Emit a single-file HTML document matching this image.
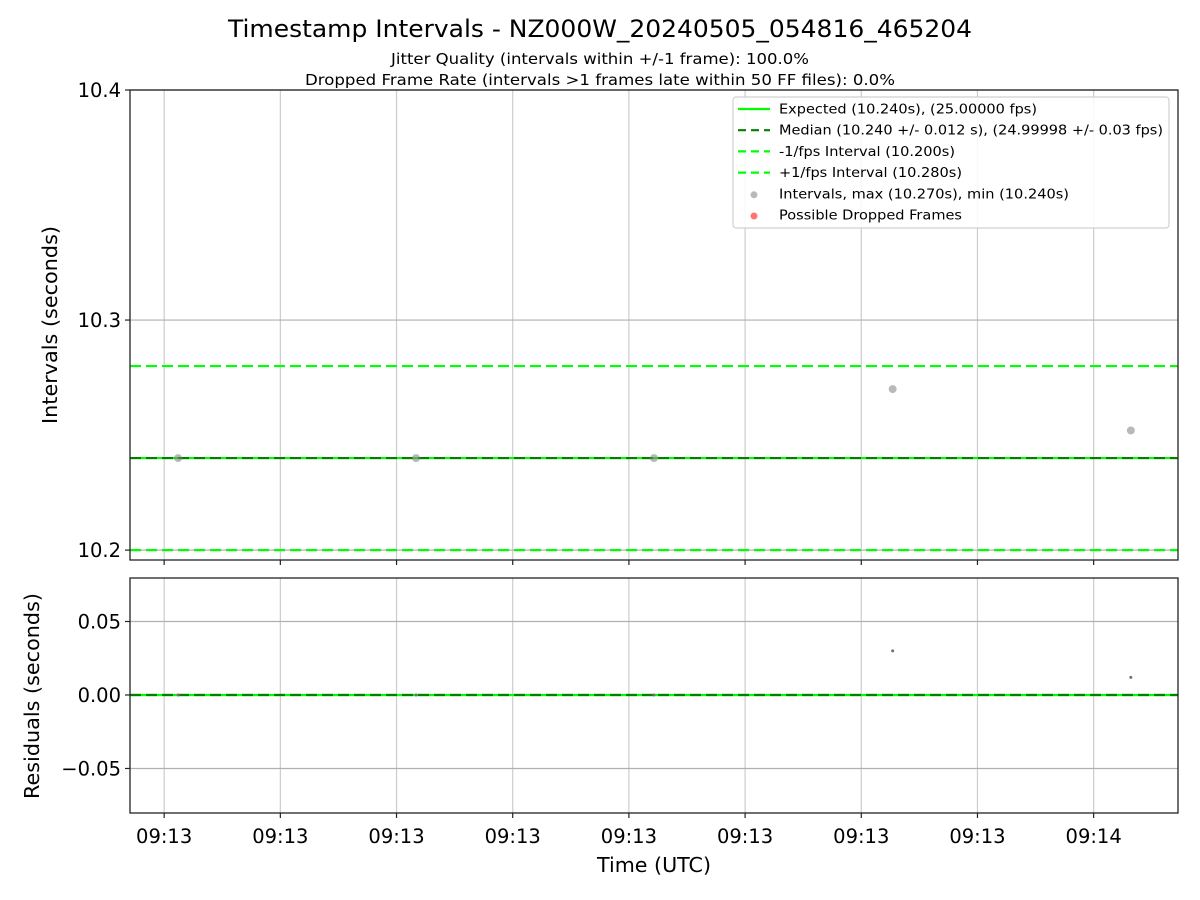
<!DOCTYPE html>
<html><head><meta charset="utf-8"><style>
html,body{margin:0;padding:0;background:#fff;width:1200px;height:900px;overflow:hidden}
svg{font-family:"DejaVu Sans","Liberation Sans",sans-serif}
</style></head><body>
<svg id="chart" width="1200" height="900" viewBox="0 0 1200 900">
<text x="600" y="37" font-size="24" text-anchor="middle" textLength="744" lengthAdjust="spacingAndGlyphs" fill="#000">Timestamp Intervals - NZ000W_20240505_054816_465204</text>
<text x="600" y="64" font-size="15.5" text-anchor="middle" textLength="418" lengthAdjust="spacingAndGlyphs">Jitter Quality (intervals within +/-1 frame): 100.0%</text>
<text x="600" y="85" font-size="15.5" text-anchor="middle" textLength="590" lengthAdjust="spacingAndGlyphs">Dropped Frame Rate (intervals &gt;1 frames late within 50 FF files): 0.0%</text>
<g id="topPlot"></g>
<g id="botPlot"></g>
<text x="654" y="872" font-size="20" text-anchor="middle" textLength="114" lengthAdjust="spacingAndGlyphs">Time (UTC)</text>
<text transform="translate(57,325) rotate(-90)" font-size="20" text-anchor="middle" textLength="198" lengthAdjust="spacingAndGlyphs">Intervals (seconds)</text>
<text transform="translate(39,696) rotate(-90)" font-size="20" text-anchor="middle" textLength="206" lengthAdjust="spacingAndGlyphs">Residuals (seconds)</text>
</svg>
<script>
const times=[0,10.24,20.48,30.75,41.0];
const intervals=[10.240,10.240,10.240,10.270,10.252];
const residuals=[0.000,0.000,0.000,0.030,0.012];
const expected=10.240, median=10.240, lowerBound=10.200, upperBound=10.280;
const xTicks=[-0.6,4.4,9.4,14.4,19.4,24.4,29.4,34.4,39.4];
const xTickLabels=["09:13","09:13","09:13","09:13","09:13","09:13","09:13","09:13","09:14"];
const topTicks=[10.2,10.3,10.4];
const topTickLabels=["10.2","10.3","10.4"];
const botTicks=[-0.05,0,0.05];
const botTickLabels=["\u22120.05","0.00","0.05"];

const NS="http://www.w3.org/2000/svg";
const L=130,R=1178;
const xMin=-2.07,xMax=43.03;
const sx=t=>L+(t-xMin)/(xMax-xMin)*(R-L);
const TA={top:90,bot:560,min:10.1957,max:10.4};
const BA={top:578,bot:813,min:-0.0803,max:0.0796};
const sy=(a,v)=>a.bot-(v-a.min)/(a.max-a.min)*(a.bot-a.top);
function el(p,tag,at){const e=document.createElementNS(NS,tag);for(const k in at)e.setAttribute(k,at[k]);p.appendChild(e);return e;}

function axes(g,a,ticks,labels,isBottom){
  xTicks.forEach((t,i)=>{const l=el(g,'line',{x1:sx(t),x2:sx(t),y1:a.top,y2:a.bot,stroke:'#cccccc','stroke-width':1.2});
    
    
    const tk=el(g,'line',{x1:sx(t),x2:sx(t),y1:a.bot,y2:a.bot+5,stroke:'#222','stroke-width':1.2});
    
    
    if(isBottom){const tx=el(g,'text',{x:sx(t),y:a.bot+30,'font-size':19.5,'text-anchor':'middle'});tx.textContent=xTickLabels[i];
      
      }
  });
  ticks.forEach((v,i)=>{const y=sy(a,v);
    const gl=el(g,'line',{x1:L,x2:R,y1:y,y2:y,stroke:'#b0b0b0','stroke-width':1.2});
    
    
    const tk=el(g,'line',{x1:L-5,x2:L,y1:y,y2:y,stroke:'#222','stroke-width':1.2});
    
    
    const tx=el(g,'text',{x:L-9,y:y+7,'font-size':19.5,'text-anchor':'end'});tx.textContent=labels[i];
    
    
  });
}
function hline(g,a,v,color,dash,name){const y=sy(a,v);
  const l=el(g,'line',{x1:L,x2:R,y1:y,y2:y,stroke:color,'stroke-width':2.2});
  if(dash)l.setAttribute('stroke-dasharray',dash);
  
  }
function frame(g,a,name){const r=el(g,'rect',{x:L,y:a.top,width:R-L,height:a.bot-a.top,fill:'none',stroke:'#222','stroke-width':1.3});
  
  }

const topG=document.getElementById('topPlot');
axes(topG,TA,topTicks,topTickLabels,false);
hline(topG,TA,expected,'#00ff00',null,'expected-line');
hline(topG,TA,median,'#007f00','11,5','median-line');
hline(topG,TA,lowerBound,'#00ff00','11,5','minus-1fps-line');
hline(topG,TA,upperBound,'#00ff00','11,5','plus-1fps-line');
times.forEach((t,i)=>{const c=el(topG,'circle',{cx:sx(t),cy:sy(TA,intervals[i]),r:4,fill:'#808080','fill-opacity':0.55});
  
  });
frame(topG,TA,'intervals-axes-frame');

const lg=el(topG,'g',{});


el(lg,'rect',{x:733,y:97,width:436,height:131,rx:3,fill:'#fff','fill-opacity':0.85,stroke:'#d0d0d0','stroke-width':1.2});
const entries=[["Expected (10.240s), (25.00000 fps)",'line','#00ff00',null,258],
["Median (10.240 +/- 0.012 s), (24.99998 +/- 0.03 fps)",'line','#007f00','8,5',384],
["-1/fps Interval (10.200s)",'line','#00ff00','8,5',176],
["+1/fps Interval (10.280s)",'line','#00ff00','8,5',183],
["Intervals, max (10.270s), min (10.240s)",'dot','#808080',null,290],
["Possible Dropped Frames",'dot','#ff0000',null,183]];
entries.forEach((e,i)=>{const y=109+i*21.2;const g=el(lg,'g',{});
  
  
  if(e[1]==='line'){const l=el(g,'line',{x1:738,x2:770,y1:y,y2:y,stroke:e[2],'stroke-width':2.2});if(e[3])l.setAttribute('stroke-dasharray',e[3]);}
  else el(g,'circle',{cx:754,cy:y+1,r:3.5,fill:e[2],'fill-opacity':0.55});
  const t=el(g,'text',{x:779,y:y+4.5,'font-size':13.5,textLength:e[4],lengthAdjust:'spacingAndGlyphs'});t.textContent=e[0];});

const botG=document.getElementById('botPlot');
axes(botG,BA,botTicks,botTickLabels,true);
hline(botG,BA,0,'#00ff00',null,'residual-zero-line');
hline(botG,BA,0,'#007f00','11,5','residual-median-line');
times.forEach((t,i)=>{const c=el(botG,'circle',{cx:sx(t),cy:sy(BA,residuals[i]),r:1.5,fill:'#707070'});
  
  });
frame(botG,BA,'residuals-axes-frame');
</script>
</body></html>
